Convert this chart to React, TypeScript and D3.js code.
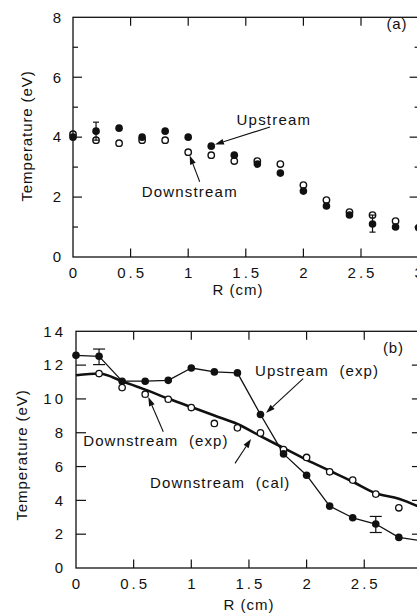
import React from "react";
import * as d3 from "d3";

// ---------- data ----------
const rAll = [0, 0.2, 0.4, 0.6, 0.8, 1.0, 1.2, 1.4, 1.6, 1.8, 2.0, 2.2, 2.4, 2.6, 2.8, 3.0];
const rDown = [0, 0.2, 0.4, 0.6, 0.8, 1.0, 1.2, 1.4, 1.6, 1.8, 2.0, 2.2, 2.4, 2.6, 2.8];
const rDownB = [0.2, 0.4, 0.6, 0.8, 1.0, 1.2, 1.4, 1.6, 1.8, 2.0, 2.2, 2.4, 2.6, 2.8];

// panel (a)
const upstreamA = [4.0, 4.2, 4.3, 4.0, 4.2, 4.0, 3.7, 3.4, 3.1, 2.8, 2.2, 1.7, 1.4, 1.1, 1.0, 0.98];
const downstreamA = [4.1, 3.9, 3.8, 3.9, 3.9, 3.5, 3.4, 3.2, 3.2, 3.1, 2.4, 1.9, 1.5, 1.4, 1.2];
const errorsA = [
  { r: 0.2, lo: 3.9, hi: 4.5 },
  { r: 2.6, lo: 0.83, hi: 1.4 },
];

// panel (b)
const upstreamB = [12.58, 12.52, 11.05, 11.05, 11.1, 11.83, 11.6, 11.54, 9.08, 6.75, 5.49, 3.66, 2.97, 2.6, 1.81, 1.6];
const downstreamB = [11.5, 10.67, 10.28, 9.98, 9.49, 8.55, 8.29, 7.99, 7.0, 6.54, 5.69, 5.2, 4.37, 3.56];
const calB = [11.4, 11.5, 11.05, 10.55, 10.02, 9.52, 9.02, 8.52, 7.8, 7.1, 6.4, 5.75, 5.1, 4.42, 4.1, 3.55];
const errorsB = [
  { r: 0.2, lo: 12.03, hi: 12.95 },
  { r: 2.6, lo: 2.1, hi: 3.05 },
];

const xTicks = [0, 0.5, 1, 1.5, 2, 2.5, 3];
const xTickLabels = ["0", "0.5", "1", "1.5", "2", "2.5", "3"];
const yTicksA = [0, 2, 4, 6, 8];
const yMinorA = [1, 3, 5, 7];
const yTicksB = [0, 2, 4, 6, 8, 10, 12, 14];

// annotations (data coordinates)
const annA = [
  { text: "Upstream", x: 1.42, y: 4.4, from: [1.71, 4.34], to: [1.232, 3.755] },
  { text: "Downstream", x: 0.596, y: 2.01, from: [1.1, 2.51], to: [1.013, 3.39] },
];
const annB = [
  { text: "Upstream  (exp)", x: 1.553, y: 11.35, from: [1.97, 11.2], to: [1.648, 9.17] },
  { text: "Downstream  (exp)", x: 0.063, y: 7.21, from: [0.757, 8.06], to: [0.627, 10.11] },
  { text: "Downstream  (cal)", x: 0.642, y: 4.71, from: [1.379, 6.19], to: [1.518, 7.63] },
];

const FONT = "'Liberation Sans', Arial, Helvetica, sans-serif";
const INK = "#111";

function Arrow({ x1, y1, x2, y2 }: { x1: number; y1: number; x2: number; y2: number }) {
  const ang = Math.atan2(y2 - y1, x2 - x1);
  const L = 9, W = 3;
  const bx = x2 - L * Math.cos(ang), by = y2 - L * Math.sin(ang);
  const px = -Math.sin(ang) * W, py = Math.cos(ang) * W;
  return (
    <g>
      <line x1={x1} y1={y1} x2={bx} y2={by} stroke={INK} strokeWidth={1.1} />
      <polygon points={`${x2},${y2} ${bx + px},${by + py} ${bx - px},${by - py}`} fill={INK} />
    </g>
  );
}

function Frame({ x, y, majorY, minorY, majT, minT, yLabelX, yLabelLs }: any) {
  const [x0, x1] = x.range();
  const [y0, y1] = y.range();
  return (
    <g>
      <rect x={x0} y={y1} width={x1 - x0} height={y0 - y1} fill="none" stroke={INK} strokeWidth={1.3} />
      {xTicks.slice(1, -1).map((t) => (
        <g key={"xt" + t}>
          <line x1={x(t)} x2={x(t)} y1={y0} y2={y0 - 8.5} stroke={INK} strokeWidth={1.2} />
          <line x1={x(t)} x2={x(t)} y1={y1} y2={y1 + 8.5} stroke={INK} strokeWidth={1.2} />
        </g>
      ))}
      {majorY.slice(1, -1).map((t: number) => (
        <g key={"yt" + t}>
          <line x1={x0} x2={x0 + majT} y1={y(t)} y2={y(t)} stroke={INK} strokeWidth={1.2} />
          <line x1={x1} x2={x1 - majT} y1={y(t)} y2={y(t)} stroke={INK} strokeWidth={1.2} />
        </g>
      ))}
      {minorY.map((t: number) => (
        <g key={"ym" + t}>
          <line x1={x0} x2={x0 + minT} y1={y(t)} y2={y(t)} stroke={INK} strokeWidth={1.2} />
          <line x1={x1} x2={x1 - minT + 1} y1={y(t)} y2={y(t)} stroke={INK} strokeWidth={1.2} />
        </g>
      ))}
      {xTicks.map((t, i) => (
        <text key={"xl" + t} x={x(t) + 1.5} y={y0 + 20.5} textAnchor="middle" fontFamily={FONT} fontSize={15} letterSpacing={3} fill={INK}>
          {xTickLabels[i]}
        </text>
      ))}
      {majorY.map((t: number) => (
        <text key={"yl" + t} x={yLabelX} y={y(t) + 5.3} textAnchor="end" fontFamily={FONT} fontSize={15} letterSpacing={yLabelLs} fill={INK}>
          {String(t)}
        </text>
      ))}
    </g>
  );
}

export default function App() {
  const xA = d3.scaleLinear().domain([0, 3]).range([73, 418.6]);
  const yA = d3.scaleLinear().domain([0, 8]).range([257, 17.3]);
  const xB = d3.scaleLinear().domain([0, 3]).range([76, 421.9]);
  const yB = d3.scaleLinear().domain([0, 14]).range([568, 331.3]);

  const lineUpB = d3.line<number>().x((_, i) => xB(rAll[i])).y((d) => yB(d));
  const lineCal = d3.line<number>().x((_, i) => xB(rAll[i])).y((d) => yB(d)).curve(d3.curveMonotoneX);

  return (
    <svg width={417} height={614} style={{ position: "absolute", left: 0, top: 0, background: "#fff" }}>
      <rect width={417} height={614} fill="#fff" />
      {/* ---------- panel (a) ---------- */}
      <Frame x={xA} y={yA} majorY={yTicksA} minorY={yMinorA} majT={9} minT={5} yLabelX={61} yLabelLs={0} />
      <text transform="translate(31.5,136) rotate(-90)" textAnchor="middle" fontFamily={FONT} fontSize={15} letterSpacing={0.9} fill={INK}>
        Temperature  (eV)
      </text>
      <text x={238} y={295} textAnchor="middle" fontFamily={FONT} fontSize={15} letterSpacing={1} fill={INK}>R (cm)</text>
      <text x={386.5} y={29} fontFamily={FONT} fontSize={15} letterSpacing={0.8} fill={INK}>(a)</text>
      {errorsA.map((e) => (
        <g key={"ea" + e.r}>
          <line x1={xA(e.r)} x2={xA(e.r)} y1={yA(e.lo)} y2={yA(e.hi)} stroke={INK} strokeWidth={1.2} />
          <line x1={xA(e.r) - 3} x2={xA(e.r) + 3} y1={yA(e.hi)} y2={yA(e.hi)} stroke={INK} strokeWidth={1.2} />
          <line x1={xA(e.r) - 3} x2={xA(e.r) + 3} y1={yA(e.lo)} y2={yA(e.lo)} stroke={INK} strokeWidth={1.2} />
        </g>
      ))}
      {upstreamA.map((v, i) => (
        <circle key={"ua" + i} cx={xA(rAll[i])} cy={yA(v)} r={3.8} fill={INK} />
      ))}
      {downstreamA.map((v, i) => (
        <circle key={"da" + i} cx={xA(rDown[i])} cy={yA(v)} r={3.2} fill="none" stroke={INK} strokeWidth={1.4} />
      ))}
      {annA.map((a) => (
        <g key={a.text}>
          <text x={xA(a.x)} y={yA(a.y)} fontFamily={FONT} fontSize={15} letterSpacing={1.2} fill={INK}>{a.text}</text>
          <Arrow x1={xA(a.from[0])} y1={yA(a.from[1])} x2={xA(a.to[0])} y2={yA(a.to[1])} />
        </g>
      ))}

      {/* ---------- panel (b) ---------- */}
      <Frame x={xB} y={yB} majorY={yTicksB} minorY={[]} majT={10} minT={0} yLabelX={66} yLabelLs={3} />
      <text transform="translate(26.5,455) rotate(-90)" textAnchor="middle" fontFamily={FONT} fontSize={15} letterSpacing={0.9} fill={INK}>
        Temperature  (eV)
      </text>
      <text x={249} y={610} textAnchor="middle" fontFamily={FONT} fontSize={15} letterSpacing={1} fill={INK}>R (cm)</text>
      <text x={383} y={353} fontFamily={FONT} fontSize={15} letterSpacing={0.8} fill={INK}>(b)</text>
      <path d={lineCal(calB) || ""} fill="none" stroke={INK} strokeWidth={2.6} strokeLinejoin="round" />
      <path d={lineUpB(upstreamB) || ""} fill="none" stroke={INK} strokeWidth={1.3} strokeLinejoin="round" />
      {errorsB.map((e) => (
        <g key={"eb" + e.r}>
          <line x1={xB(e.r)} x2={xB(e.r)} y1={yB(e.lo)} y2={yB(e.hi)} stroke={INK} strokeWidth={1.2} />
          <line x1={xB(e.r) - 6} x2={xB(e.r) + 6} y1={yB(e.hi)} y2={yB(e.hi)} stroke={INK} strokeWidth={1.2} />
          <line x1={xB(e.r) - 6} x2={xB(e.r) + 6} y1={yB(e.lo)} y2={yB(e.lo)} stroke={INK} strokeWidth={1.2} />
        </g>
      ))}
      {downstreamB.map((v, i) => (
        <circle key={"db" + i} cx={xB(rDownB[i])} cy={yB(v)} r={3.2} fill="#fff" stroke={INK} strokeWidth={1.3} />
      ))}
      {upstreamB.map((v, i) => (
        <circle key={"ub" + i} cx={xB(rAll[i])} cy={yB(v)} r={3.8} fill={INK} />
      ))}
      {annB.map((a) => (
        <g key={a.text}>
          <text x={xB(a.x)} y={yB(a.y)} fontFamily={FONT} fontSize={15} letterSpacing={1.1} fill={INK} style={{ whiteSpace: "pre" }}>{a.text}</text>
          <Arrow x1={xB(a.from[0])} y1={yB(a.from[1])} x2={xB(a.to[0])} y2={yB(a.to[1])} />
        </g>
      ))}
    </svg>
  );
}
